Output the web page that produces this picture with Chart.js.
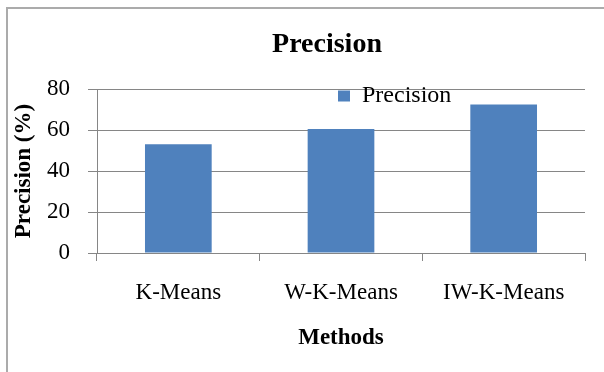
<!DOCTYPE html>
<html lang="en">
<head>
  <meta charset="UTF-8" />
  <title>Precision</title>
  <script src="https://cdn.jsdelivr.net/npm/chart.js"></script>
  <style>
    * { margin: 0; padding: 0; box-sizing: border-box; }
    html, body { background: #ffffff; overflow: hidden; }
    .wrap { position: absolute; left: 0; top: 0; width: 654px; height: 372px; }
  </style>
</head>
<body>
  <div class="wrap"><canvas id="precisionChart"></canvas></div>

  <script>
    // data
    const methods = ['K-Means', 'W-K-Means', 'IW-K-Means'];
    const precision = [53, 60.5, 72.5];
    const yTicks = [0, 20, 40, 60, 80];

    const serif = '"Liberation Serif", "Times New Roman", serif';

    // put the legend inside the plot, right of centre, like the Excel original
    const legendInPlot = {
      id: 'legendInPlot',
      afterLayout(chart) {
        const lg = chart.legend;
        if (!lg) return;
        const w = lg.width, h = lg.height;
        lg.left = chart.chartArea.left + 241;
        lg.right = lg.left + w;
        lg.top = chart.chartArea.top - 5;
        lg.bottom = lg.top + h;
      }
    };

    // grey chart-object frame (only its left and top edges fall in the picture)
    const chartFrame = {
      id: 'chartFrame',
      beforeDraw(chart) {
        const c = chart.ctx;
        c.save();
        c.strokeStyle = '#ababab';
        c.lineWidth = 2;
        c.beginPath();
        c.moveTo(7, chart.height);
        c.lineTo(7, 8);
        c.lineTo(chart.width, 8);
        c.stroke();
        c.restore();
      }
    };

    const ctx = document.getElementById('precisionChart').getContext('2d');
    new Chart(ctx, {
      type: 'bar',
      data: {
        labels: methods,
        datasets: [{
          label: 'Precision',
          data: precision,
          backgroundColor: '#4f81bd',
          borderWidth: 0,
          categoryPercentage: 1,
          barPercentage: 0.41,
          yAxisID: 'y'
        }]
      },
      options: {
        responsive: true,
        maintainAspectRatio: false,
        animation: false,
        layout: { padding: 0 },
        plugins: {
          title: {
            display: true,
            text: 'Precision',
            color: '#000',
            font: { family: serif, size: 28, weight: 'bold' },
            padding: { top: 28, bottom: 27.4 }
          },
          legend: {
            position: 'chartArea',
            align: 'start',
            labels: {
              color: '#000',
              font: { family: serif, size: 24, lineHeight: 1 },
              boxWidth: 12,
              boxHeight: 11,
              padding: 0
            }
          },
          tooltip: { enabled: false }
        },
        scales: {
          x: {
            offset: true,
            afterFit: (s) => { s.height = 119; },
            grid: {
              offset: true,
              drawOnChartArea: false,
              color: '#868686',
              tickLength: 8,
              tickColor: '#868686'
            },
            border: { color: '#868686' },
            ticks: {
              color: '#000',
              font: { family: serif, size: 23 },
              padding: 18,
              maxRotation: 0
            },
            title: {
              display: true,
              text: 'Methods',
              color: '#000',
              font: { family: serif, size: 23, weight: 'bold' },
              padding: { top: 0, bottom: 20 }
            }
          },
          y: {
            min: 0,
            max: 80,
            afterFit: (s) => { s.width = 97; },
            afterBuildTicks: (s) => { s.ticks = yTicks.map(v => ({ value: v })); },
            grid: {
              color: '#868686',
              tickLength: 9,
              tickColor: '#868686'
            },
            border: { color: '#868686' },
            ticks: {
              color: '#000',
              font: { family: serif, size: 23 },
              padding: 18
            },
            title: {
              display: true,
              text: 'Precision (%)',
              color: '#000',
              font: { family: serif, size: 23, weight: 'bold' },
              padding: { top: 10, bottom: 2 }
            }
          },
          // empty right-hand axis that keeps the space right of the plot
          yRight: {
            position: 'right',
            display: true,
            min: 0,
            max: 80,
            afterFit: (s) => { s.width = 69; },
            grid: { display: false },
            border: { display: false },
            ticks: { display: false },
            title: { display: false }
          }
        }
      },
      plugins: [legendInPlot, chartFrame]
    });
  </script>
</body>
</html>
